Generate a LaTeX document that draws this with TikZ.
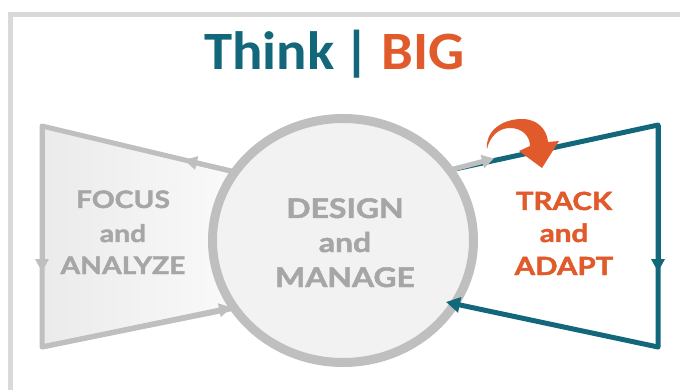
\documentclass[tikz,border=0pt]{standalone}
\usepackage{fontspec}
\setmainfont{Lato}[BoldFeatures={FakeStretch=1.18,FakeBold=1.8}]
\newfontfamily\titlefont{Carlito}[BoldFeatures={FakeStretch=1.05}]
\usetikzlibrary{arrows.meta,shapes.geometric}
\definecolor{framegray}{HTML}{D9D9D9}
\definecolor{linegray}{HTML}{BFBFBF}
\definecolor{textgray}{HTML}{A6A6A6}
\definecolor{fillgray}{HTML}{F2F2F2}
\definecolor{teal}{HTML}{12677B}
\definecolor{orng}{HTML}{E05A2B}
\tikzset{
  gline/.style={draw=linegray, line width=5pt, line join=round, line cap=round},
  tline/.style={draw=teal, line width=5pt, line join=round, line cap=round},
  ghead/.style={-{Triangle[length=13pt,width=13pt]}},
  lbl/.style={anchor=base, inner sep=0pt},
  ttl/.style={anchor=base west, inner sep=0pt, font=\titlefont\bfseries\fontsize{54}{54}\selectfont},
}
\begin{document}
\begin{tikzpicture}[x=1pt,y=-1pt]
\useasboundingbox (0,0) rectangle (680,390);
% frame
\draw[framegray, line width=5pt] (10,14.5) rectangle (720,430);
% coordinates
\coordinate (ltl) at (42,126);
\coordinate (lbl) at (42,347);
\coordinate (ltr) at (235,172);
\coordinate (lbr) at (235,308);
\coordinate (rtl) at (455,169);
\coordinate (rtr) at (658,125);
\coordinate (rbr) at (658,347);
\coordinate (rbl) at (446,302);
% left trapezoid
\fill[left color=black!8, right color=black!2] (ltl) -- (ltr) -- (lbr) -- (lbl) -- cycle;
\draw[gline] (ltr) -- (ltl) -- (lbl) -- (lbr);
\coordinate (la1) at (184,160);
\draw[gline, ghead, line cap=butt] (ltr) -- (la1);
\coordinate (la2) at (42,272);
\draw[gline, ghead, line cap=butt] (ltl) -- (la2);
\coordinate (la3) at (232,307.5);
\draw[gline, ghead, line cap=butt] (lbl) -- (la3);
% right teal
\draw[tline] (rtl) -- (rtr) -- (rbr);
\coordinate (ra1) at (658,272);
\draw[tline, -{Triangle[length=13pt,width=13pt]}, line cap=butt] (rtr) -- (ra1);
% circle
\node[ellipse, draw=linegray, fill=fillgray, line width=9pt, minimum width=261pt, minimum height=244pt, inner sep=0pt] (c) at (343,240.5) {};
% teal bottom arrow
\draw[tline, -{Triangle[length=14pt,width=15pt]}, line cap=butt] (rbr) -- (rbl);
% gray arrow to right
\coordinate (rg) at (494,158.5);
\draw[gline, -{Triangle[length=12pt,width=13pt]}, line cap=butt] (452,169.5) -- (rg);
% orange curved arrow
\fill[orng] (487,149) .. controls (485,133) and (500,119) .. (522,119)
  .. controls (538,119) and (547,130) .. (548,142) -- (559,141) -- (542,168) -- (519,151) -- (530,146)
  .. controls (530,136) and (522,128) .. (510,128)
  .. controls (499,128) and (490,136) .. (487,149) -- cycle;
% title
\node[ttl, teal] (think) at (204,70) {Think};
\node[ttl, teal] (pipe) at (343,70) {|};
\node[ttl, orng] (big) at (381,70) {BIG};
% labels
\node[lbl, textgray, font=\bfseries\fontsize{24}{24}\selectfont] (f1) at (123,208) {FOCUS};
\node[lbl, textgray, font=\bfseries\fontsize{24}{24}\selectfont] (f2) at (123,242) {and};
\node[lbl, textgray, font=\bfseries\fontsize{24}{24}\selectfont] (f3) at (123,274) {ANALYZE};
\node[lbl, textgray, font=\bfseries\fontsize{27}{27}\selectfont] (d1) at (345,218) {DESIGN};
\node[lbl, textgray, font=\bfseries\fontsize{27}{27}\selectfont] (d2) at (345,252) {and};
\node[lbl, textgray, font=\bfseries\fontsize{27}{27}\selectfont] (d3) at (345,287) {MANAGE};
\node[lbl, orng, font=\bfseries\fontsize{25}{25}\selectfont] (t1) at (564,210) {TRACK};
\node[lbl, orng, font=\bfseries\fontsize{25}{25}\selectfont] (t2) at (564,242) {and};
\node[lbl, orng, font=\bfseries\fontsize{25}{25}\selectfont] (t3) at (564,275) {ADAPT};
\end{tikzpicture}
\end{document}
